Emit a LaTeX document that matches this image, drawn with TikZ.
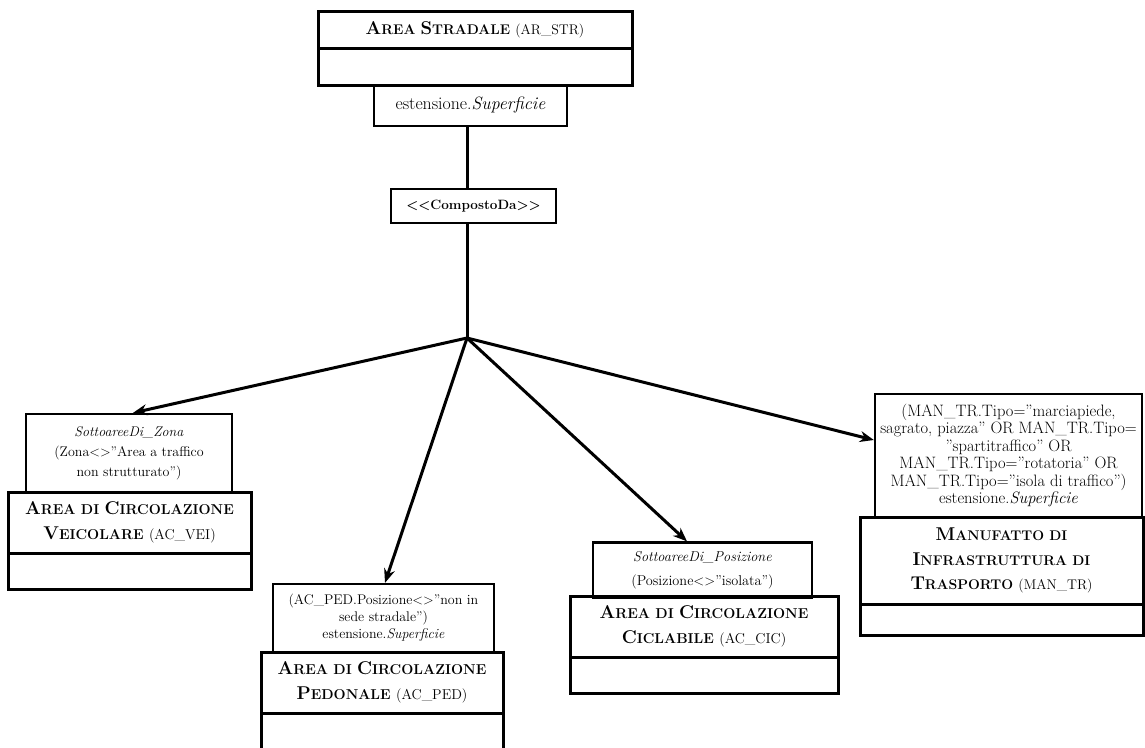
\documentclass[tikz,border=0pt]{standalone}
\usetikzlibrary{arrows.meta}
% larger initial letter for the hand-made bold small caps
\newcommand\initc[1]{{\fontsize{18.5}{20}\selectfont #1}}
\begin{document}
\begin{tikzpicture}[x=1pt,y=-1pt,
  classbox/.style={draw, line width=3pt, inner sep=0pt, align=center,
    font=\bfseries\fontsize{14.3}{24.5}\selectfont},
  attrbox/.style={draw, line width=2.3pt, inner sep=0pt, align=center,
    font=\fontsize{14}{17}\selectfont},
  emptybox/.style={draw, line width=3pt, inner sep=0pt},
  link/.style={line width=3pt},
  arrow/.style={line width=3pt, -{Stealth[length=14pt,width=11pt]}}]
\useasboundingbox (0,0) rectangle (1145,747);
\clip (0,0) rectangle (1145,747);

% Area stradale
\node[classbox, minimum width=314pt, minimum height=37pt, font=\bfseries\fontsize{14}{24.5}\selectfont] (str) at (475,29.5)
  {\initc{A}REA \initc{S}TRADALE {\mdseries (AR\_STR)}};
\node[emptybox, minimum width=314pt, minimum height=37pt] (strb) at (475,66.5) {};
\node[attrbox, minimum width=193pt, minimum height=41pt, font=\fontsize{17.8}{20}\selectfont] (est) at (470.5,105.5)
  {estensione.\textit{Superficie}};
\node[attrbox, minimum width=165pt, minimum height=34pt, font=\bfseries\fontsize{13.5}{16.5}\selectfont] (cd) at (473.5,206)
  {<{}<CompostoDa>{}>};
\coordinate (j) at (467,338);

% Area di circolazione veicolare
\node[attrbox, minimum width=206pt, minimum height=78pt, font=\fontsize{14}{20}\selectfont] (vattr) at (129,453)
  {\textit{SottoareeDi\_Zona}\\(Zona<>”Area a traffico\\non strutturato”)};
\node[classbox, minimum width=243pt, minimum height=61pt] (vei) at (129.5,522.5)
  {\initc{A}REA DI \initc{C}IRCOLAZIONE\\\initc{V}EICOLARE {\mdseries (AC\_VEI)}};
\node[emptybox, minimum width=243pt, minimum height=36pt] (veib) at (129.5,571) {};

% Area di circolazione pedonale
\node[attrbox, minimum width=221pt, minimum height=68pt] (pattr) at (383.5,618)
  {(AC\_PED.Posizione<>”non in\\sede stradale”)\\estensione.\textit{Superficie}};
\node[classbox, minimum width=242pt, minimum height=61pt] (ped) at (382,682.5)
  {\initc{A}REA DI \initc{C}IRCOLAZIONE\\\initc{P}EDONALE {\mdseries (AC\_PED)}};
\node[emptybox, minimum width=242pt, minimum height=60pt] (pedb) at (382,743) {};

% Area di circolazione ciclabile
\node[attrbox, minimum width=219pt, minimum height=55pt, font=\fontsize{14.3}{24}\selectfont] (cattr) at (702.5,570)
  {\textit{SottoareeDi\_Posizione}\\(Posizione<>”isolata”)};
\node[classbox, minimum width=268pt, minimum height=61pt] (cic) at (704,626.5)
  {\initc{A}REA DI \initc{C}IRCOLAZIONE\\\initc{C}ICLABILE {\mdseries (AC\_CIC)}};
\node[emptybox, minimum width=268pt, minimum height=36pt] (cicb) at (704,675) {};

% Manufatto di infrastruttura di trasporto
\node[attrbox, minimum width=267pt, minimum height=123pt, font=\fontsize{16.5}{17.4}\selectfont] (mattr) at (1008.5,455.5)
  {(MAN\_TR.Tipo=”marciapiede,\\sagrato, piazza” OR MAN\_TR.Tipo=\\”spartitraffico” OR\\MAN\_TR.Tipo=”rotatoria” OR\\MAN\_TR.Tipo=”isola di traffico”)\\estensione.\textit{Superficie}};
\node[classbox, minimum width=283pt, minimum height=87pt, font=\bfseries\fontsize{14}{24.5}\selectfont] (man) at (1001.5,560.5)
  {\initc{M}ANUFATTO DI\\\initc{I}NFRASTRUTTURA DI\\\initc{T}RASPORTO {\mdseries (MAN\_TR)}};
\node[emptybox, minimum width=283pt, minimum height=31pt] (manb) at (1001.5,619.5) {};

% composition links
\draw[link] (est.south -| j) -- (cd.north -| j);
\draw[link] (cd.south -| j) -- (j);
\draw[arrow] (j) -- ([xshift=4pt]vattr.north);
\draw[arrow] (j) -- ([xshift=1.5pt]pattr.north);
\draw[arrow] (j) -- ([xshift=-15.5pt]cattr.north);
\draw[arrow] (j) -- ([yshift=15.5pt]mattr.west);
\end{tikzpicture}
\end{document}
